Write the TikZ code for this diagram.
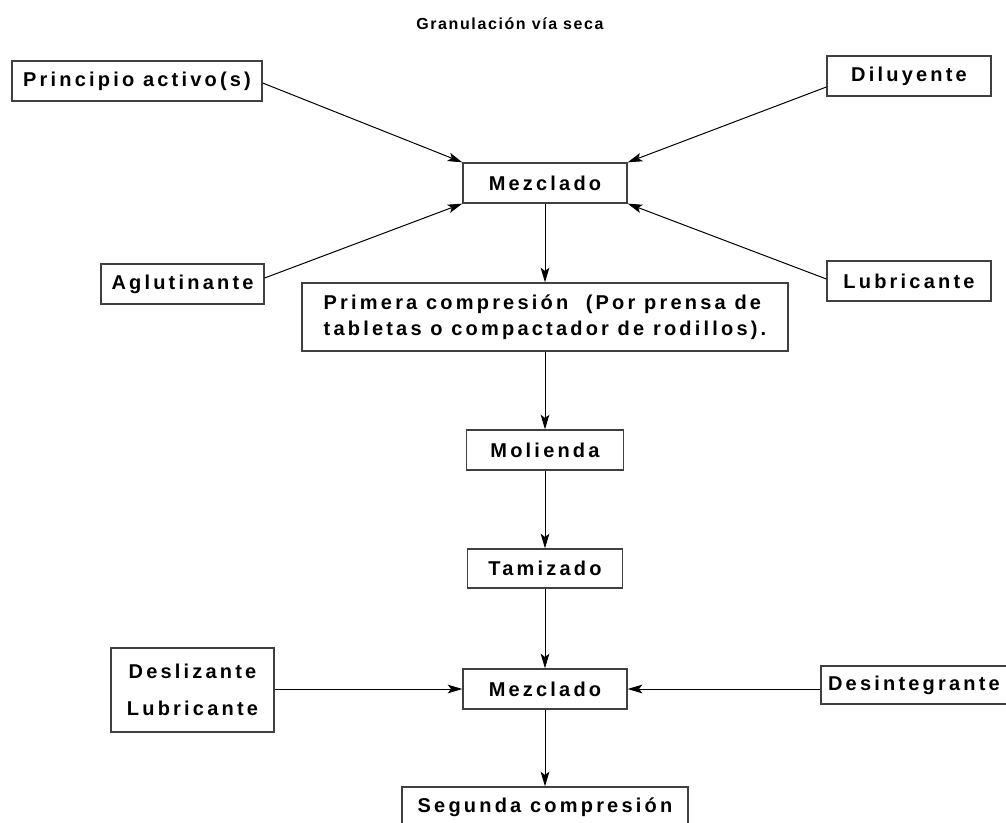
\documentclass[tikz,border=0pt]{standalone}
\usepackage{fontspec}
\setmainfont{Liberation Sans}
\newfontfamily\boxfont[LetterSpace=16]{Liberation Sans}
\newfontfamily\titlefont[LetterSpace=10]{Liberation Sans}
\usetikzlibrary{arrows.meta}
\begin{document}
\begin{tikzpicture}[x=0.75pt,y=-0.75pt,
  sz/.style n args={2}{minimum width=#1*0.75pt, minimum height=#2*0.75pt},
  box/.style={draw=black!75, line width=0.95pt, fill=white, inner sep=0pt,
    font=\boxfont\bfseries\fontsize{15}{17}\selectfont},
  link/.style={draw=black, line width=0.75pt,
    -{Stealth[length=11pt,width=6.5pt,inset=2.5pt]}}]
\useasboundingbox (0,0) rectangle (1006,823);

\node[font=\titlefont\bfseries\fontsize{12}{14}\selectfont] (title) at (510,24) {Granulación vía seca};

% inputs and process steps
\node[box, sz={250}{40}] (princ) at (137,81) {Principio activo(s)};
\node[box, sz={164}{40}] (dil)   at (909,76) {Diluyente};
\node[box, sz={164}{40}] (mez1)  at (545,183) {Mezclado};
\node[box, sz={163}{40}] (aglu)  at (182.5,284) {Aglutinante};
\node[box, sz={164}{40}] (lub)   at (909,281) {Lubricante};
\node[box, sz={486}{68}, align=left, font=\boxfont\bfseries\fontsize{15}{19.5}\selectfont]
  (prim) at (545,317) {Primera compresión \ (Por prensa de\\tabletas o compactador de rodillos).};
\node[box, sz={157}{40}] (mol)   at (545,450) {Molienda};
\node[box, sz={155}{39}] (tam)   at (545,568.5) {Tamizado};
\node[box, sz={163}{84}, align=center, font=\boxfont\bfseries\fontsize{15}{27.75}\selectfont]
  (desl) at (192.5,690) {Deslizante\\Lubricante};
\node[box, sz={164}{40}] (mez2)  at (545,689) {Mezclado};
\node[box, sz={186}{38}] (desi)  at (914,685) {Desintegrante};
\node[box, sz={286}{40}] (seg)   at (545,807) {Segunda compresión};

% connectors
\draw[link] ([yshift=-1.5pt]princ.east) -- (mez1.north west);
\draw[link] ([yshift=-8.25pt]dil.west) -- (mez1.north east);
\draw[link] ([yshift=4.5pt]aglu.east) -- (mez1.south west);
\draw[link] ([yshift=1.5pt]lub.west) -- (mez1.south east);
\draw[link] (mez1.south) -- (prim.north);
\draw[link] (prim.south) -- (mol.north);
\draw[link] (mol.south) -- (tam.north);
\draw[link] (tam.south) -- (mez2.north);
\draw[link] (desl.east |- mez2.west) -- (mez2.west);
\draw[link] (desi.west |- mez2.east) -- (mez2.east);
\draw[link] (mez2.south) -- (seg.north);
\end{tikzpicture}
\end{document}
